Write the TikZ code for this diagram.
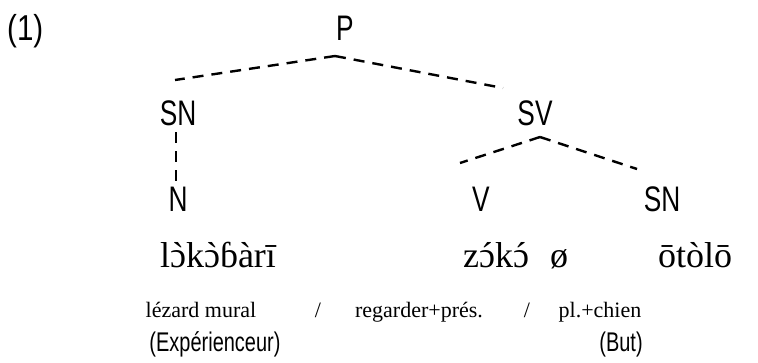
\documentclass[tikz,border=0pt]{standalone}
\usepackage{fontspec}
\setmainfont{Liberation Serif}
\newfontfamily\accf[Ligatures=TeXOff]{Liberation Serif}
\newfontfamily\nsans[FakeStretch=0.74]{Liberation Sans}
\newfontfamily\nsanswide[FakeStretch=0.82]{Liberation Sans}
\newcommand\ac[2]{{\setbox0\hbox{#1}\setbox2\hbox{\accf#2}\hbox to\wd0{\hss\box2\hss}\kern-\wd0\box0}}
\newcommand\gr[1]{\ac{#1}{\symbol{"60}}}
\newcommand\ai[1]{\ac{#1}{\symbol{"B4}}}
\begin{document}
\begin{tikzpicture}[x=1pt,y=-1pt,
  cat/.style={inner sep=0pt,anchor=base,font=\nsans\fontsize{35.5}{40}\selectfont},
  word/.style={inner sep=0pt,anchor=base,font=\fontsize{36}{40}\selectfont},
  gloss/.style={inner sep=0pt,anchor=base,font=\fontsize{22}{26}\selectfont},
  role/.style={inner sep=0pt,anchor=base,font=\nsans\fontsize{27}{30}\selectfont},
  branch/.style={line width=2.4pt,dash pattern=on 11pt off 8pt}]
\useasboundingbox (0,0) rectangle (758,362);
% labels
\node[cat,anchor=base west,font=\nsanswide\fontsize{36}{40}\selectfont] (num) at (7,40) {(1)};
\node[cat] (P) at (345,40) {P};
\node[cat] (SN1) at (178,125) {SN};
\node[cat] (SV) at (535,125) {SV};
\node[cat] (N) at (178,211) {N};
\node[cat] (V) at (481,211) {V};
\node[cat] (SN2) at (662,211) {SN};
% words
\node[word] (w1) at (218,267) {l\gr{ɔ}k\gr{ɔ}ɓàrī};
\node[word] (w2) at (496,267) {z\ai{ɔ}k\ai{ɔ}};
\node[word] (w3) at (559,267) {ø};
\node[word] (w4) at (695,267) {ōtòlō};
% glosses
\node[gloss] (g1) at (201,317) {lézard mural};
\node[gloss] (s1) at (318,317) {/};
\node[gloss] (g2) at (419,317) {regarder+prés.};
\node[gloss] (s2) at (527,317) {/};
\node[gloss] (g3) at (600,317) {pl.+chien};
\node[role] (r1) at (215,351) {(Expérienceur)};
\node[role] (r2) at (621,351) {(But)};
% branch points
\coordinate (Pb) at (335,56);
\coordinate (SN1t) at (175,80);
\coordinate (SVt) at (503,88);
\coordinate (SN1b) at (176,132);
\coordinate (Nt) at (176,186);
\coordinate (SVb) at (540,137);
\coordinate (Vt) at (460,163);
\coordinate (SN2t) at (637,169);
\draw[branch] (Pb) -- (SN1t);
\draw[branch] (Pb) -- (SVt);
\draw[branch] (SN1b) -- (Nt);
\draw[branch] (SVb) -- (Vt);
\draw[branch] (SVb) -- (SN2t);
\end{tikzpicture}
\end{document}
